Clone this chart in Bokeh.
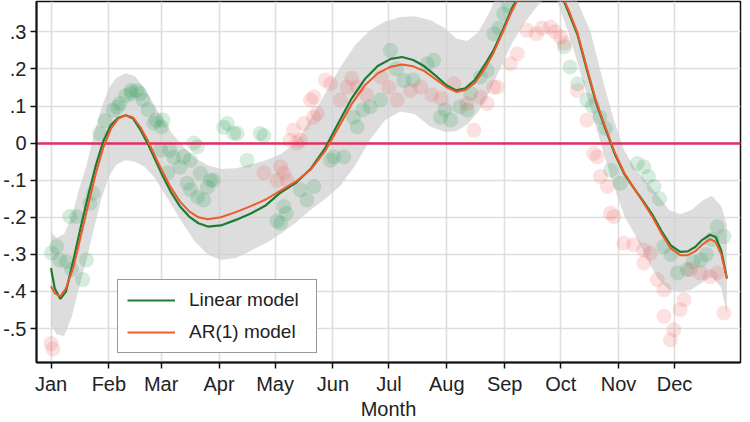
from bokeh.plotting import figure
from bokeh.models import FixedTicker, Legend, LegendItem, Range1d
from bokeh.embed import file_html
from bokeh.resources import INLINE

# ---- data (day of year, value) ----
month_days = [1, 32, 60, 91, 121, 152, 182, 213, 244, 274, 305, 335]
month_labels = ["Jan", "Feb", "Mar", "Apr", "May", "Jun", "Jul", "Aug", "Sep", "Oct", "Nov", "Dec"]
y_ticks = [-0.5, -0.4, -0.3, -0.2, -0.1, 0.0, 0.1, 0.2, 0.3]
y_tick_labels = ["-.5", "-.4", "-.3", "-.2", "-.1", "0", ".1", ".2", ".3"]

curve_days = [1, 3, 6, 9, 13, 17, 21, 25, 29, 33, 37, 41, 45, 49, 53, 57, 61, 65, 70, 75,
              80, 85, 92, 100, 108, 116, 124, 132, 140, 148, 155, 162, 169, 176, 183, 189, 195, 201, 207, 213,
              218, 223, 228, 233, 238, 243, 248, 253, 258, 263, 268, 273, 278, 283, 288, 293, 298, 303, 308, 313,
              318, 323, 328, 333, 338, 342, 346, 350, 354, 357, 360, 363]
linear_model = [-0.337, -0.392, -0.420, -0.400, -0.315, -0.225, -0.140, -0.060, 0.005, 0.048,
                0.068, 0.075, 0.066, 0.035, -0.003, -0.047, -0.090, -0.130, -0.170, -0.198,
                -0.216, -0.225, -0.222, -0.207, -0.190, -0.168, -0.133, -0.108, -0.070, -0.012,
                0.055, 0.120, 0.172, 0.208, 0.227, 0.232, 0.224, 0.207, 0.182, 0.155,
                0.142, 0.148, 0.170, 0.208, 0.250, 0.305, 0.365, 0.410, 0.440, 0.452,
                0.445, 0.415, 0.355, 0.292, 0.198, 0.108, 0.038, -0.030, -0.083, -0.120,
                -0.155, -0.192, -0.237, -0.276, -0.293, -0.292, -0.280, -0.260, -0.247, -0.253,
                -0.290, -0.364]
ar1_model = [-0.386, -0.405, -0.413, -0.392, -0.335, -0.250, -0.165, -0.082, -0.012, 0.038,
             0.066, 0.075, 0.069, 0.042, 0.005, -0.038, -0.080, -0.118, -0.157, -0.184,
             -0.200, -0.205, -0.200, -0.186, -0.170, -0.152, -0.128, -0.104, -0.072, -0.020,
             0.042, 0.105, 0.155, 0.188, 0.206, 0.212, 0.207, 0.194, 0.172, 0.150,
             0.138, 0.143, 0.162, 0.198, 0.243, 0.300, 0.358, 0.405, 0.435, 0.447,
             0.442, 0.417, 0.362, 0.297, 0.203, 0.113, 0.042, -0.026, -0.080, -0.120,
             -0.158, -0.198, -0.244, -0.284, -0.302, -0.302, -0.292, -0.273, -0.259, -0.266,
             -0.300, -0.366]

band_days = [1, 4, 8, 12, 16, 20, 24, 28, 32, 36, 41, 46, 51, 56, 61, 66, 72, 78, 85, 92,
             100, 108, 116, 124, 132, 140, 148, 156, 164, 172, 180, 188, 196, 204, 212, 218, 224, 230, 236, 242,
             248, 254, 260, 266, 272, 278, 284, 290, 296, 302, 308, 314, 320, 326, 332, 338, 344, 350, 355, 360, 363]
band_upper = [-0.240, -0.255, -0.245, -0.200, -0.125, -0.060, 0.025, 0.095, 0.148, 0.176,
              0.188, 0.180, 0.148, 0.105, 0.062, 0.025, -0.010, -0.040, -0.060, -0.070,
              -0.068, -0.058, -0.046, -0.030, 0.000, 0.065, 0.135, 0.205, 0.265, 0.305,
              0.328, 0.340, 0.342, 0.332, 0.310, 0.282, 0.275, 0.300, 0.355, 0.425,
              0.480, 0.520, 0.545, 0.550, 0.520, 0.440, 0.370, 0.300, 0.180, 0.070,
              -0.020, -0.070, -0.105, -0.140, -0.180, -0.192, -0.180, -0.155, -0.142, -0.170, -0.220]
band_lower = [-0.490, -0.515, -0.520, -0.470, -0.390, -0.315, -0.230, -0.150, -0.090, -0.058,
              -0.046, -0.050, -0.064, -0.090, -0.130, -0.170, -0.220, -0.265, -0.300, -0.315,
              -0.310, -0.290, -0.270, -0.245, -0.215, -0.180, -0.150, -0.115, -0.060, 0.010,
              0.062, 0.085, 0.078, 0.045, 0.030, 0.032, 0.050, 0.085, 0.140, 0.205,
              0.270, 0.320, 0.360, 0.395, 0.385, 0.300, 0.200, 0.095, -0.010, -0.110,
              -0.195, -0.250, -0.310, -0.365, -0.395, -0.400, -0.395, -0.375, -0.360, -0.390, -0.460]

green_days = [1.3, 4, 5.7, 9.3, 12, 18, 20, 11, 14.7, 21.8, 23.6, 27, 30, 34.3, 36.6, 37.9, 41, 44, 46.8, 43.8,
              48.6, 50.4, 53, 56, 57.5, 60.2, 61, 59.7, 63.5, 64.6, 66.6, 70, 72, 74, 75.7, 75.7, 77.5, 79.4, 79.5, 81,
              82.8, 84.8, 86.4, 88, 93.5, 95.4, 98.8, 100.7, 106, 113, 115,
              122, 124, 125.7, 127, 134.6, 138, 141.8, 150.7, 152.5, 157.8, 163, 165, 168, 172, 177.5, 182.8, 186, 190, 195,
              202.5, 206, 209.6, 212, 215, 220, 224, 225.7, 231, 234.6, 238.2, 241, 243.5, 246,
              276, 279, 283, 288, 291, 295, 298, 300.7, 306, 315, 318.5, 321, 324, 327,
              329.3, 333, 336.5, 341.8, 345, 349, 352, 355, 357.8, 361.4]
green_vals = [-0.296, -0.279, -0.315, -0.320, -0.340, -0.368, -0.315, -0.198, -0.198, -0.162, -0.135, 0.026, 0.060, 0.089, 0.097, 0.107, 0.128, 0.134, 0.142, 0.142,
              0.134, 0.116, 0.090, 0.054, 0.062, 0.044, 0.062, -0.019, -0.080, -0.019, -0.038, -0.065, -0.037, -0.108, -0.046, -0.126, 0.000, -0.010, -0.145, -0.081,
              -0.153, -0.118, -0.100, -0.100, 0.043, 0.053, 0.027, 0.026, -0.046, 0.026, 0.020,
              -0.210, -0.216, -0.171, -0.190, -0.126, -0.153, -0.117, -0.046, -0.037, -0.037, 0.070, 0.044, 0.090, 0.098, 0.116, 0.250, 0.200, 0.169, 0.170,
              0.214, 0.223, 0.070, 0.090, 0.062, 0.098, 0.089, 0.134, 0.178, 0.196, 0.295, 0.310, 0.349, 0.370,
              0.260, 0.205, 0.160, 0.116, 0.100, 0.070, 0.040, -0.073, -0.108, -0.055, -0.064, -0.090, -0.117, -0.150,
              -0.279, -0.300, -0.350, -0.341, -0.320, -0.315, -0.300, -0.260, -0.225, -0.252]

red_days = [1, 2, 115, 122, 124, 125.7, 127.5, 129, 131, 132.7, 134.6, 136.4, 140, 141.6, 141.8, 143.6, 148, 150.7, 156, 159.6,
            162, 165, 170, 177.5, 182, 186.4, 193.5, 199, 205, 210, 216.7, 223.8, 227.5, 231, 234.6, 238, 240, 247, 250.7, 256,
            261, 264, 268.5, 271, 273.9, 276, 282.8, 288, 291.7, 293.6, 295.3, 299, 300.7, 302.5, 307.8, 313, 318.5, 322, 318.5, 325.7,
            329.3, 329.3, 332.8, 334.6, 338, 340, 343.5, 349, 354, 357.8, 361.4]
red_vals = [-0.540, -0.555, -0.080, -0.100, -0.064, -0.080, -0.100, 0.008, 0.035, 0.000, 0.008, 0.053, 0.116, 0.070, 0.124, 0.080, 0.170, 0.160, 0.116, 0.151,
            0.175, 0.151, 0.130, 0.178, 0.150, 0.116, 0.142, 0.151, 0.130, 0.120, 0.160, 0.107, 0.035, 0.124, 0.107, 0.151, 0.151, 0.214, 0.241, 0.304,
            0.295, 0.310, 0.313, 0.300, 0.286, 0.270, 0.142, 0.062, -0.028, -0.037, -0.090, -0.117, -0.189, -0.198, -0.270, -0.274, -0.288, -0.297, -0.323, -0.368,
            -0.395, -0.467, -0.530, -0.503, -0.449, -0.422, -0.341, -0.350, -0.360, -0.350, -0.458]

FONT = "Liberation Sans"

p = figure(width=750, height=422, output_backend="svg", toolbar_location=None,
           x_range=Range1d(-6.77, 370.3), y_range=Range1d(-0.5914, 0.3817),
           min_border_left=36, min_border_right=10, min_border_top=1, min_border_bottom=59,
           background_fill_color="white", border_fill_color="white")

p.outline_line_color = "#111111"
p.outline_line_width = 1.5

# grid
p.xgrid.ticker = FixedTicker(ticks=month_days)
p.ygrid.ticker = FixedTicker(ticks=y_ticks)
for g in (p.xgrid, p.ygrid):
    g.grid_line_color = "#dedede"
    g.grid_line_width = 1.6

# axes
p.xaxis.ticker = FixedTicker(ticks=month_days)
p.xaxis.major_label_overrides = {d: m for d, m in zip(month_days, month_labels)}
p.yaxis.ticker = FixedTicker(ticks=y_ticks)
p.yaxis.major_label_overrides = {t: l for t, l in zip(y_ticks, y_tick_labels)}
p.xaxis.axis_label = "Month"
for ax in (p.xaxis, p.yaxis):
    ax.axis_line_color = "#111111"
    ax.axis_line_width = 2
    ax.major_tick_line_color = "#111111"
    ax.major_tick_line_width = 1.5
    ax.major_tick_out = 6
    ax.major_tick_in = 0
    ax.minor_tick_line_color = None
    ax.major_label_text_font = FONT
    ax.major_label_text_font_size = "20px"
    ax.major_label_text_color = "#222222"
    ax.major_label_standoff = 4
p.xaxis.axis_label_text_font = FONT
p.xaxis.axis_label_text_font_size = "20px"
p.xaxis.axis_label_text_font_style = "normal"
p.xaxis.axis_label_text_color = "#222222"
p.xaxis.axis_label_standoff = 0

# confidence band
p.varea(x=band_days, y1=band_lower, y2=band_upper, fill_color="#cfcfcf", fill_alpha=0.7)

# observations
p.scatter(green_days, green_vals, size=15, fill_color="#2e9e5a", fill_alpha=0.2, line_color=None)
p.scatter(red_days, red_vals, size=15, fill_color="#f05a5a", fill_alpha=0.18, line_color=None)

# zero reference line
p.hspan(y=[0], line_color="#e0305f", line_width=2.5)

# model curves
r_lin = p.line(curve_days, linear_model, line_color="#1e7b34", line_width=2.2)
r_ar = p.line(curve_days, ar1_model, line_color="#f05a28", line_width=2.0)

legend = Legend(items=[LegendItem(label="Linear model", renderers=[r_lin]),
                       LegendItem(label="AR(1) model", renderers=[r_ar])],
                location=(81, 9), orientation="vertical")
legend.label_text_font = FONT
legend.label_text_font_size = "19px"
legend.label_text_color = "#222222"
legend.glyph_width = 48
legend.glyph_height = 20
legend.label_standoff = 14
legend.label_width = 118
legend.padding = 9
legend.spacing = 10
legend.margin = 0
legend.border_line_color = "#333333"
legend.border_line_width = 1.8
legend.background_fill_color = "white"
legend.background_fill_alpha = 1.0
p.add_layout(legend)

open("out.html", "w").write(file_html(p, INLINE))
